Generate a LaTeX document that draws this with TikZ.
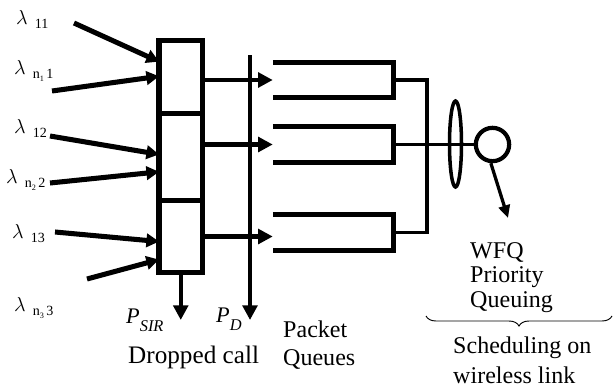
\documentclass[tikz,border=0pt]{standalone}
\usepackage{fontspec}
\setmainfont{Liberation Serif}
\usepackage{tikz}
\usetikzlibrary{shapes.geometric, arrows.meta, positioning, calc, decorations.pathreplacing}

\newcommand{\lam}[1]{$\lambda$\hspace{6pt}\raisebox{-4pt}{\fontsize{12}{12}\selectfont #1}}
\newcommand{\nsub}[2]{n\raisebox{-2pt}{\fontsize{7}{7}\selectfont #1}\,#2}
\newcommand{\plab}[2]{\textit{#1}\raisebox{-7pt}{\fontsize{14}{14}\selectfont\textit{#2}}}

\tikzset{
  lbl/.style={inner sep=0pt, font=\fontsize{20.5}{24}\selectfont},
  lamlbl/.style={inner sep=0pt, anchor=base west, font=\fontsize{18}{18}\selectfont},
  cellbox/.style={draw, line width=4.5pt, minimum width=1.3cm, inner sep=0pt, outer sep=0pt},
  queue/.style={inner sep=0pt, minimum width=3.6cm, minimum height=1.05cm},
  qline/.style={line width=4.4pt},
  thinline/.style={line width=2.9pt},
  inarr/.style={line width=4.3pt, -{Triangle[length=0.38cm, width=0.4cm]}},
  outarr/.style={line width=3.8pt, -{Triangle[length=0.44cm, width=0.44cm]}}
}

\begin{document}
\begin{tikzpicture}[x=0.03cm, y=-0.03cm]
\useasboundingbox (0,0) rectangle (613,390);

% admission boxes
\node[cellbox, minimum height=2.19cm] (box1) at (180.75,77) {};
\node[cellbox, minimum height=2.61cm, below=0pt of box1] (box2) {};
\node[cellbox, minimum height=2.16cm, below=0pt of box2] (box3) {};

% arrival rates
\node[lamlbl] (lam11) at (16,24) {\lam{11}};
\node[lamlbl] (lamn1) at (14,74) {\lam{\nsub{1}{1}}};
\node[lamlbl] (lam12) at (14,133) {\lam{12}};
\node[lamlbl] (lamn2) at (6,183) {\lam{\nsub{2}{2}}};
\node[lamlbl] (lam13) at (12,238) {\lam{13}};
\node[lamlbl] (lamn3) at (14,311) {\lam{\nsub{3}{3}}};

\foreach \sx/\sy/\bx/\fr [count=\i] in {74/23/box1/0.29, 52/91/box1/0.49, 50/136/box2/0.47,
    50/183/box2/0.67, 55/232/box3/0.57, 87/279/box3/0.82} {
  \coordinate (src\i) at (\sx,\sy);
  \draw[inarr] (src\i) -- ($(\bx.north west)!\fr!(\bx.south west)$);
}

% dropped calls
\coordinate (pdtop) at (250,55);
\coordinate (pdend) at (250,320);
\coordinate (sirend) at (box3.south |- pdend);
\draw[outarr] (box3.south) -- (sirend);

% packet queues
\node[queue] (q1) at (333,80) {};
\node[queue] (q2) at (333,144.5) {};
\node[queue] (q3) at (333,232.5) {};
\foreach \q in {q1,q2,q3}
  \draw[qline] (\q.north west) -- (\q.north east) -- (\q.south east) -- (\q.south west);

\draw[outarr] (box1.east |- q1.west) -- (q1.west);
\draw[outarr] (box2.east |- q2.west) -- (q2.west);
\draw[outarr] (box3.east) -- (box3.east -| q3.west);
\draw[outarr] (pdtop) -- (pdend);

% scheduler
\coordinate (join) at (427,144.5);
\draw[thinline] (q1.east) -- (q1.east -| join) -- (q3.east -| join) -- (q3.east);
\node[draw, circle, line width=3.6pt, minimum size=1.0cm, inner sep=0pt] (sched) at (492.5,144.5) {};
\draw[thinline] (q2.east) -- (sched.west);
\node[draw, ellipse, line width=3pt, minimum width=0.36cm, minimum height=2.58cm, inner sep=0pt] (tie) at (455.5,144) {};
\coordinate (schedout) at (508,218);
\draw[line width=2.8pt, -{Triangle[length=0.38cm, width=0.34cm]}] (sched.-95) -- (schedout);

% labels
\node[lbl, anchor=base west, font=\fontsize{19}{19}\selectfont] (psir) at (126,323) {\plab{P}{SIR}};
\node[lbl, anchor=base west, font=\fontsize{19}{19}\selectfont] (pd) at (216,322) {\plab{P}{D}};
\begin{scope}
  \clip (120,335) rectangle (258.5,375);
  \node[lbl, anchor=base west, font=\fontsize{21.5}{24}\selectfont] (dropped) at (128,363) {Dropped calls};
\end{scope}
\node[lbl, anchor=north west, align=left] (pq) at (283,320.5) {Packet\\Queues};
\node[lbl, anchor=north west, align=left, font=\fontsize{20.5}{21}\selectfont] (wfq) at (470,242) {WFQ\\Priority\\Queuing};

\coordinate (brl) at (426,316);
\coordinate (brr) at (612,316);
\draw[line width=0.8pt, decorate, decoration={brace, mirror, amplitude=0.3cm}] (brl) -- (brr);
\node[lbl, anchor=north west, align=left, font=\fontsize{20.5}{25.5}\selectfont] (link) at (453,337) {Scheduling on\\wireless link};

\end{tikzpicture}
\end{document}
